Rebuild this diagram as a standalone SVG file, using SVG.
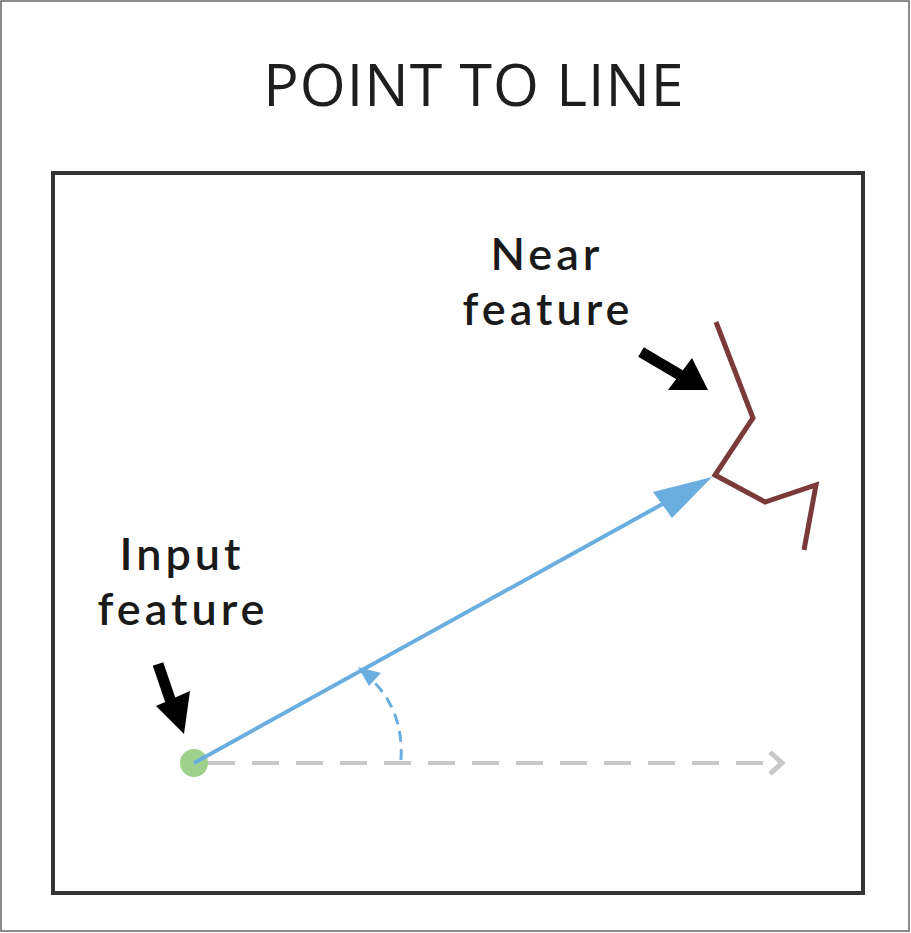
<svg xmlns="http://www.w3.org/2000/svg" width="911" height="933" viewBox="0 0 911 933">
<defs>
<style>
.lbl{font-family:Lato,"Open Sans","Liberation Sans",sans-serif;fill:#1a1a1a;font-size:45px;font-weight:600;letter-spacing:4px}
.title{font-family:"Open Sans","Liberation Sans",sans-serif;fill:#1e1e1e;font-size:59px;font-weight:500;letter-spacing:1px}
</style>
</defs>
<rect x="0" y="0" width="911" height="933" fill="#fff"/>
<rect x="1" y="1" width="908" height="930" fill="none" stroke="#666" stroke-width="1.5"/>
<text x="474" y="106" text-anchor="middle" class="title">POINT TO LINE</text>
<rect id="frame" x="53" y="173" width="810" height="720" fill="none" stroke="#333" stroke-width="4"/>
<g id="near-feature">
<polyline points="716,322 753,418 715,475 765,502 816,485 804,550" fill="none" stroke="#7a3a3a" stroke-width="5" stroke-linejoin="miter"/>
<text class="lbl" x="547" y="270" text-anchor="middle">Near</text>
<text class="lbl" x="548" y="325" text-anchor="middle">feature</text>
</g>
<g id="input-feature">
<circle cx="194" cy="763" r="14" fill="#9fd08c"/>
<text class="lbl" x="182" y="570" text-anchor="middle">Input</text>
<text class="lbl" x="183" y="625" text-anchor="middle">feature</text>
</g>
<g id="connectors">
<line x1="208" y1="763" x2="775" y2="763" stroke="#c8c8c8" stroke-width="4" stroke-dasharray="27,17"/>
<polyline points="770,752 782,763 770,774" fill="none" stroke="#c8c8c8" stroke-width="5"/>
<line x1="194" y1="763" x2="668" y2="501" stroke="#6aaee0" stroke-width="4"/>
<path d="M712,477 L653,492 L672,518 Z" fill="#6aaee0"/>
<path d="M401,760 C403,725 392,700 372,680" fill="none" stroke="#6aaee0" stroke-width="3" stroke-dasharray="11,7"/>
<path d="M358,667 L381,673 L369,686 Z" fill="#6aaee0"/>
<path d="M641,352 L680,375" stroke="#000" stroke-width="11" fill="none"/>
<path d="M708,390 L668,390 L692,358 Z" fill="#000"/>
<path d="M158,664 L172,705" stroke="#000" stroke-width="11" fill="none"/>
<path d="M184,734 L156,706 L190,691 Z" fill="#000"/>
</g>
</svg>
